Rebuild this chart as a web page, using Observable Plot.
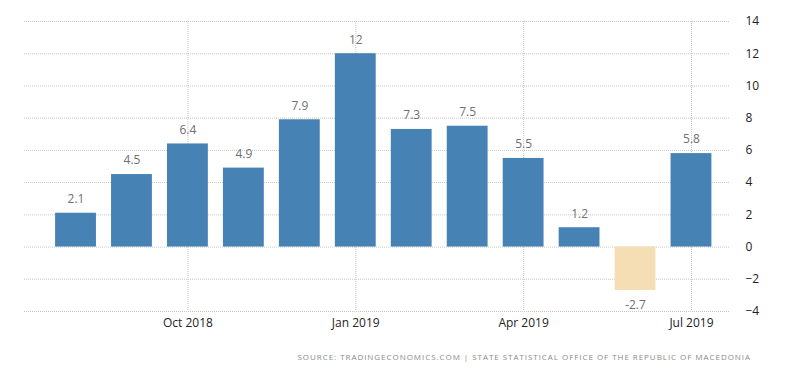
<!DOCTYPE html>
<html>
<head>
<meta charset="utf-8">
<script src="https://cdn.jsdelivr.net/npm/d3@7"></script>
<script src="https://cdn.jsdelivr.net/npm/@observablehq/plot@0.6"></script>
<style>
  html, body { margin: 0; padding: 0; background: #fff; }
  #chart { width: 800px; height: 373px; overflow: hidden; }
  #source {
    height: 33px; line-height: 33px; text-align: right; padding-right: 49px;
    font-family: "Open Sans", sans-serif; font-size: 8px; letter-spacing: 0.95px;
    color: #8a8a8a; white-space: nowrap;
  }
</style>
</head>
<body>
<div id="chart"></div>
<script>
const months = ["Aug 2018","Sep 2018","Oct 2018","Nov 2018","Dec 2018","Jan 2019",
                "Feb 2019","Mar 2019","Apr 2019","May 2019","Jun 2019","Jul 2019"];
const values = [2.1, 4.5, 6.4, 4.9, 7.9, 12, 7.3, 7.5, 5.5, 1.2, -2.7, 5.8];
const xTicks = ["Oct 2018","Jan 2019","Apr 2019","Jul 2019"];
const yTicks = [-4, -2, 0, 2, 4, 6, 8, 10, 12, 14];
const sourceText = "SOURCE: TRADINGECONOMICS.COM | STATE STATISTICAL OFFICE OF THE REPUBLIC OF MACEDONIA";

const data = months.map((m, i) => ({month: m, value: values[i]}));
const pos = data.filter(d => d.value >= 0);
const neg = data.filter(d => d.value < 0);

const chart = Plot.plot({
  width: 800,
  height: 340,
  marginTop: 21,
  marginBottom: 29,
  marginLeft: 24,
  marginRight: 70,
  style: {fontFamily: "'Open Sans', sans-serif", fontSize: "12px", background: "#fff"},
  x: {domain: months, padding: 0.27, round: false, insetLeft: 16, insetRight: 3.5, label: null},
  y: {domain: [-4, 14], label: null},
  marks: [
    Plot.gridY(yTicks, {stroke: "#c8c8c8", strokeOpacity: 1, strokeDasharray: "1,1"}),
    Plot.gridX(xTicks, {stroke: "#c8c8c8", strokeOpacity: 1, strokeDasharray: "1,1"}),
    Plot.barY(data, {x: "month", y: "value", fill: d => d.value < 0 ? "#f5deb3" : "#4682b4"}),
    Plot.text(pos, {x: "month", y: "value", text: d => String(d.value), dy: -14, fill: "#707070", fontSize: 12}),
    Plot.text(neg, {x: "month", y: "value", text: d => String(d.value), dy: 15, fill: "#707070", fontSize: 12}),
    Plot.axisY(yTicks, {anchor: "right", tickSize: 0, tickPadding: 15, fill: "#222", fontSize: 12, label: null}),
    Plot.axisX(xTicks, {anchor: "bottom", tickSize: 0, tickPadding: 7, fill: "#222", fontSize: 12, label: null})
  ]
});
const el = document.getElementById("chart");
el.appendChild(chart);
const src = document.createElement("div");
src.id = "source";
src.textContent = sourceText;
el.appendChild(src);
</script>
</body>
</html>
